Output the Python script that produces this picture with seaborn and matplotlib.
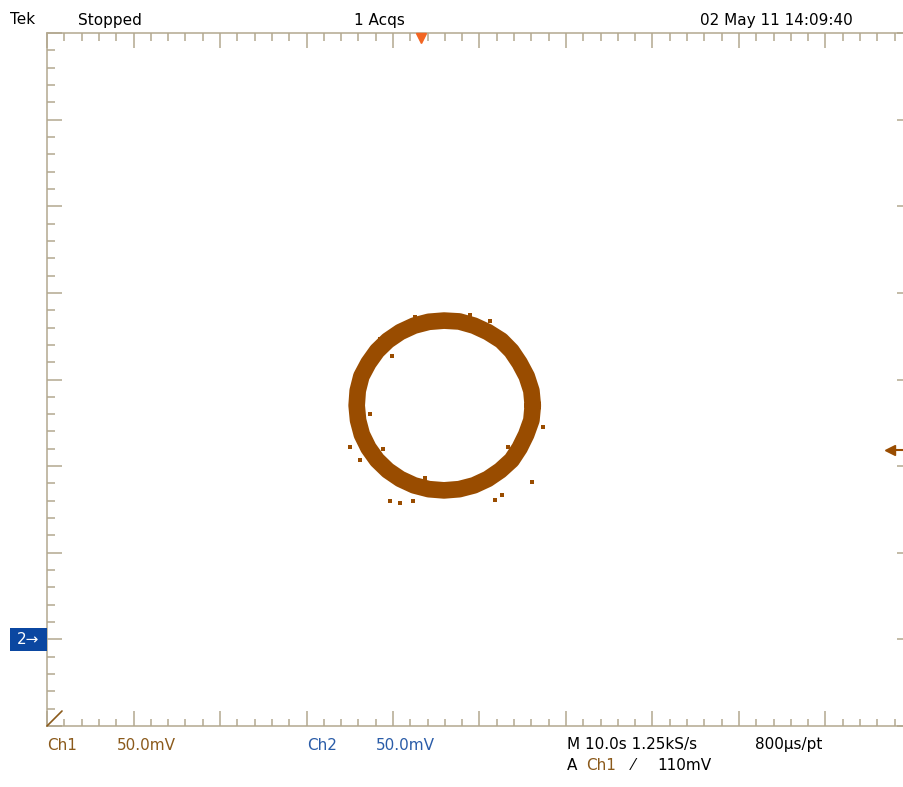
import matplotlib
matplotlib.use("Agg")
import matplotlib.pyplot as plt
from matplotlib.ticker import MultipleLocator
from matplotlib.patches import Rectangle
import seaborn as sns
import pandas as pd

# ---- data (mV, XY mode: Ch1 on x, Ch2 on y) ----
trace_x = [30.8, 30.0, 27.3, 23.2, 18.5, 12.6, 4.8, -3.2, -11.7, -20.5, -29.3, -37.8,
           -45.8, -53.0, -59.2, -64.2, -68.3, -70.4, -71.0, -70.2, -68.0, -64.2, -59.2,
           -53.0, -45.8, -37.8, -29.3, -20.5, -11.7, -3.2, 4.8, 12.0, 18.6, 23.2, 27.0,
           30.0, 30.8]
trace_y = [-15.0, -6.5, 1.8, 9.5, 16.5, 22.5, 27.4, 31.1, 33.5, 34.0, 33.3, 31.1,
           27.4, 22.5, 16.5, 9.5, 1.8, -6.5, -15.0, -23.5, -31.8, -39.5, -46.5,
           -52.5, -57.4, -61.1, -63.3, -64.0, -63.3, -61.1, -57.4, -52.5, -46.5, -39.5,
           -31.8, -23.5, -15.0]
stray_x = [-37.3, -5.5, 6.1, -57.5, -50.6, -65.0, -63.3, -67.3, -74.9, -55.8, 16.5, 20.5,
           36.7, 30.3, -47.7, -41.3, -31.5, -28.6, -51.7, -46.0, -38.4, 9.0, 13.0, -69.0]
stray_y = [35.8, 37.5, 33.5, 23.1, 13.3, 12.7, -20.2, -24.8, -38.7, -40.4, -38.7, -38.7,
           -27.7, -58.9, -53.1, -56.6, -56.6, -60.6, -70.4, -71.0, -70.4, -69.3, -66.4, -46.2]

x_range = (-250, 250)   # 10 div x 50.0 mV
y_range = (-200, 200)   # 8 div x 50.0 mV

header_left = ["Tek", "Stopped", "1 Acqs"]
header_date = "02 May 11 14:09:40"
ch1_label, ch1_scale = "Ch1", "50.0mV"
ch2_label, ch2_scale = "Ch2", "50.0mV"
time_info = "M 10.0s 1.25kS/s"
pt_info = "800\u00b5s/pt"
trig_level = "110mV"

# ---- style ----
sns.set_style("white")
plt.rcParams["font.family"] = ["DejaVu Sans"]

W, H = 904, 787
FRAME = "#b3a88f"
TRACE = "#994c00"
BROWN = "#8b5a1b"
BLUE = "#2a5ca8"

fig = plt.figure(figsize=(W / 100, H / 100), dpi=100)
fig.patch.set_facecolor("white")
ax = fig.add_axes([47 / W, (H - 726) / H, 865 / W, 693 / H])

trace = pd.DataFrame({"x": trace_x, "y": trace_y})
stray = pd.DataFrame({"x": stray_x, "y": stray_y})

sns.lineplot(data=trace, x="x", y="y", sort=False, estimator=None, color=TRACE,
             linewidth=12, ax=ax, solid_joinstyle="round", solid_capstyle="round")
sns.scatterplot(data=stray, x="x", y="y", marker="s", s=6, color=TRACE,
                linewidth=0, ax=ax)

ax.set_xlim(*x_range)
ax.set_ylim(*y_range)
ax.set_xlabel("")
ax.set_ylabel("")
ax.xaxis.set_major_locator(MultipleLocator(50))
ax.xaxis.set_minor_locator(MultipleLocator(10))
ax.yaxis.set_major_locator(MultipleLocator(50))
ax.yaxis.set_minor_locator(MultipleLocator(10))
ax.tick_params(which="both", direction="in", top=True, bottom=True, left=True,
               right=True, labelbottom=False, labelleft=False, color=FRAME, width=1.1)
ax.tick_params(which="major", length=10.8)
ax.tick_params(which="minor", length=5.4)
for s in ax.spines.values():
    s.set_color(FRAME)
    s.set_linewidth(1.1)
ax.set_facecolor("white")

# trigger position marker (top)
ax.plot([0.432], [0.993], marker="v", markersize=7, color="#f26522",
        transform=ax.transAxes, clip_on=False, zorder=5)


def ft(x, y, s, **kw):
    kw.setdefault("fontsize", 11)
    kw.setdefault("va", "center")
    kw.setdefault("ha", "left")
    return fig.text(x / W, 1 - y / H, s, **kw)


# header
ft(10, 20, header_left[0], color="black")
ft(78, 20, header_left[1], color="black")
ft(354, 20, header_left[2], color="black")
ft(700, 20, header_date, color="black")

# footer
ft(47, 745, ch1_label, color=BROWN)
ft(117, 745, ch1_scale, color=BROWN)
ft(307, 745, ch2_label, color=BLUE)
ft(376, 745, ch2_scale, color=BLUE)
ft(567, 745, time_info, color="black")
ft(755, 745, pt_info, color="black")
ft(567, 766, "A", color="black")
ft(586, 766, ch1_label, color=BROWN)
ft(632, 766, "\u2044", color="black")
ft(657, 766, trig_level, color="black")

# Ch2 reference marker (blue box)
fig.add_artist(Rectangle((10 / W, 1 - 651 / H), 37 / W, 23 / H,
                         facecolor="#0b47a1", edgecolor="none",
                         transform=fig.transFigure))
ft(28, 640, "2\u2192", color="white", ha="center", fontsize=11)

# XY-mode corner indicator
fig.add_artist(plt.Line2D([47 / W, 62 / W], [1 - 726 / H, 1 - 711 / H],
                          color=BROWN, linewidth=1.2))

# Ch1 level arrow (right edge)
fig.add_artist(plt.Line2D([890 / W, 904 / W], [1 - 450 / H, 1 - 450 / H],
                          color=TRACE, linewidth=1.5))
fig.add_artist(plt.Line2D([890 / W], [1 - 450 / H], marker="<", markersize=7,
                          color=TRACE, linestyle="none"))

fig.savefig("out.png", dpi=100, facecolor="white")
